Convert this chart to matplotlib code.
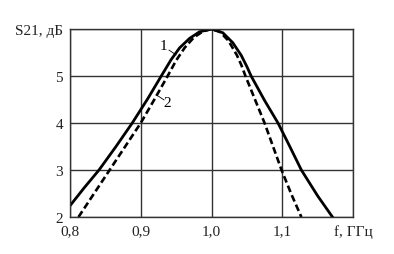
import matplotlib
matplotlib.use("Agg")
import matplotlib.pyplot as plt

# curve 1 (solid)
f1 = [0.800, 0.820, 0.841, 0.865, 0.888, 0.910, 0.929, 0.943, 0.955, 0.969,
      0.983, 1.000, 1.016, 1.030, 1.042, 1.050, 1.056, 1.075, 1.094, 1.110,
      1.127, 1.150, 1.171]
s1 = [2.24, 2.62, 3.00, 3.50, 4.00, 4.52, 5.00, 5.35, 5.60, 5.80,
      5.94, 6.00, 5.92, 5.71, 5.44, 5.20, 5.00, 4.48, 4.00, 3.52,
      3.00, 2.45, 2.00]

# curve 2 (dashed)
f2 = [0.812, 0.834, 0.856, 0.878, 0.900, 0.920, 0.938, 0.950, 0.962, 0.975,
      0.988, 1.000, 1.012, 1.024, 1.036, 1.042, 1.048, 1.062, 1.075, 1.087,
      1.099, 1.113, 1.127]
s2 = [2.00, 2.50, 3.00, 3.50, 4.00, 4.52, 5.00, 5.33, 5.60, 5.82,
      5.95, 6.00, 5.94, 5.75, 5.44, 5.24, 5.00, 4.48, 4.00, 3.50,
      3.00, 2.48, 2.00]

xticks = [0.8, 0.9, 1.0, 1.1, 1.2]
xlabels = ["0,8", "0,9", "1,0", "1,1", "f, ГГц"]
yticks = [2, 3, 4, 5, 6]
ylabels = ["2", "3", "4", "5", "S21, дБ"]

plt.rcParams['font.family'] = ['Liberation Serif', 'DejaVu Serif']

fig = plt.figure(figsize=(3.94, 2.55), dpi=100)
ax = fig.add_axes([70/394, 1-218/255, 283/394, 188/255])

ax.plot(f1, s1, c='black', lw=2.0, solid_joinstyle='round')
ax.plot(f2, s2, c='black', lw=1.9, dashes=(2.6, 1.3))

ax.set_xlim(0.8, 1.2)
ax.set_ylim(2, 6)
ax.set_xticks(xticks)
ax.set_xticklabels(xlabels, fontsize=11)
ax.set_yticks(yticks)
ax.set_yticklabels(ylabels, fontsize=11)
ax.tick_params(length=0, pad=5, colors='#222222')
ax.grid(True, color='#333333', lw=1.0)
for sp in ax.spines.values():
    sp.set_color('#333333')
    sp.set_linewidth(1.0)

# curve labels
ax.text(0.932, 5.64, "1", fontsize=11, ha='center', va='center')
ax.plot([0.940, 0.950], [5.55, 5.45], c='black', lw=0.6)
ax.text(0.938, 4.43, "2", fontsize=11, ha='center', va='center')
ax.plot([0.925, 0.933], [4.57, 4.49], c='black', lw=0.6)

fig.savefig("out.png", dpi=100)
